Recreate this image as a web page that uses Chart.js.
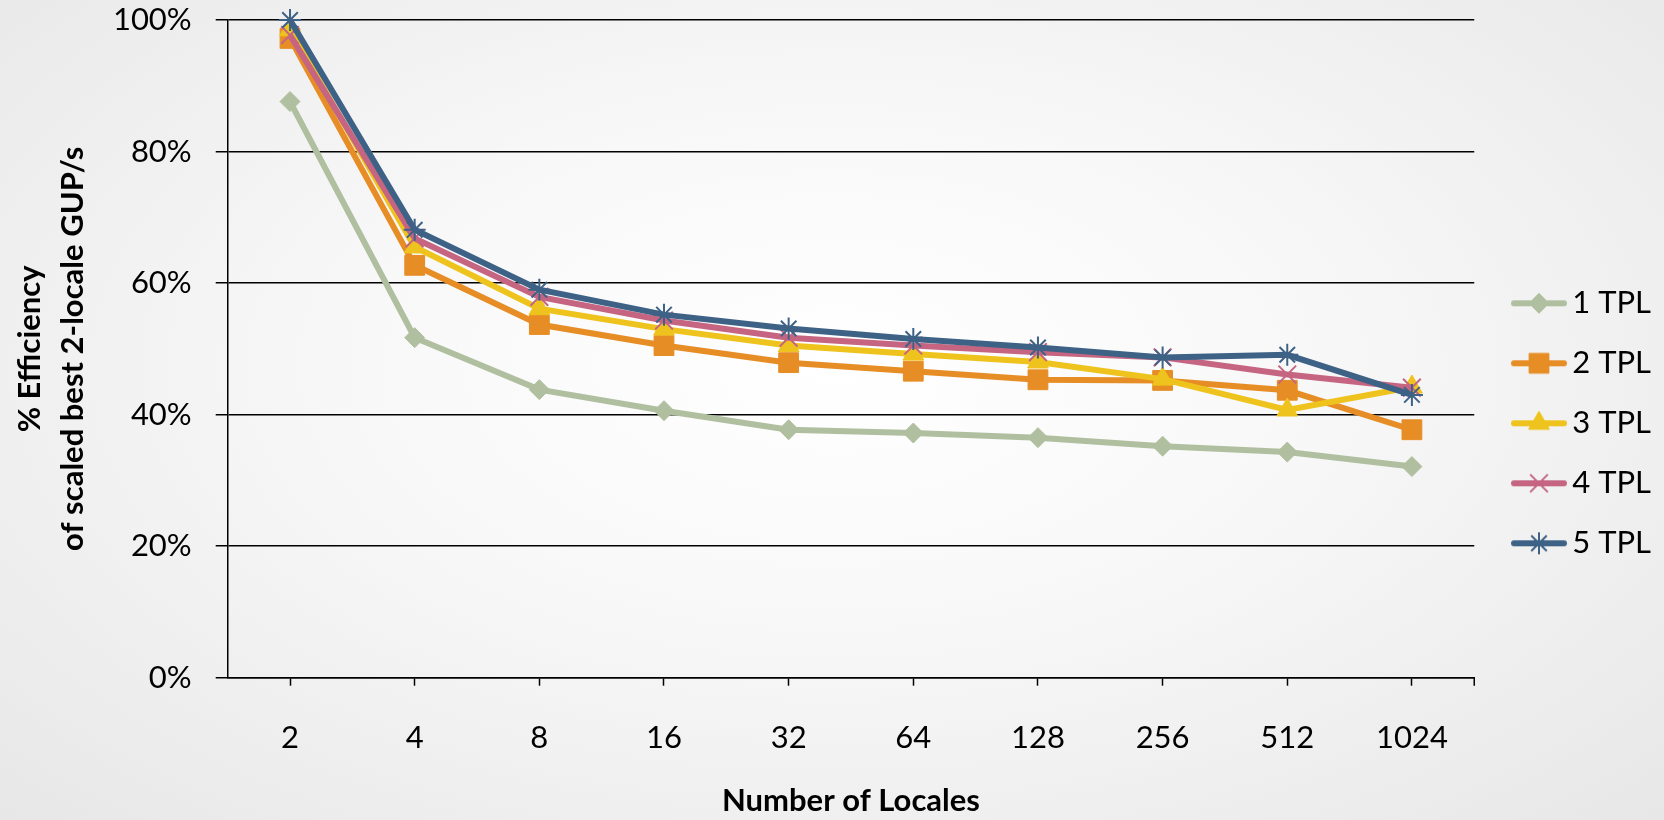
<!DOCTYPE html>
<html>
<head>
<meta charset="utf-8">
<script src="https://cdn.jsdelivr.net/npm/chart.js@4/dist/chart.umd.min.js"></script>
<style>
  html, body { margin: 0; padding: 0; }
  body {
    width: 1664px; height: 820px; overflow: hidden;
    background: radial-gradient(ellipse at 50% 45%, #ffffff 0%, #f8f8f8 40%, #e7e7e7 100%);
  }
  canvas { display: block; }
</style>
</head>
<body>
<canvas id="chart" width="1664" height="820"></canvas>
<script>
// chart data (in %)
const locales = ['2', '4', '8', '16', '32', '64', '128', '256', '512', '1024'];
const seriesNames = ['1 TPL', '2 TPL', '3 TPL', '4 TPL', '5 TPL'];
const tpl1 = [87.6, 51.7, 43.8, 40.6, 37.7, 37.2, 36.5, 35.2, 34.3, 32.1];
const tpl2 = [97.2, 62.7, 53.7, 50.5, 47.9, 46.6, 45.3, 45.2, 43.7, 37.7];
const tpl3 = [98.5, 65.5, 56.1, 53.0, 50.5, 49.2, 48.0, 45.4, 40.7, 44.2];
const tpl4 = [97.7, 66.8, 57.9, 54.3, 51.7, 50.5, 49.5, 48.7, 46.1, 44.1];
const tpl5 = [100, 68.1, 59.0, 55.2, 53.1, 51.5, 50.2, 48.7, 49.1, 43.0];
const yTicks = [0, 20, 40, 60, 80, 100];

const values = [tpl1, tpl2, tpl3, tpl4, tpl5];
const colors = ['#b0bf9f', '#e68d25', '#efc31d', '#c56582', '#3e6286'];
const markers = ['rectRot', 'rect', 'triangle', 'crossRot', 'star'];
const radii = [10, 14, 12, 12.5, 11];
const markerWidth = [1, 1, 1, 2, 2];

Chart.defaults.font.family = 'Lato';
Chart.defaults.font.size = 31;
Chart.defaults.color = '#000';

// legend icon: a short line with the marker in the middle
function legendIcon(i) {
    const c = document.createElement('canvas');
    c.width = 78;
    c.height = 32;
    const g = c.getContext('2d');
    const cx = 48, cy = 16;
    g.strokeStyle = colors[i];
    g.fillStyle = colors[i];
    g.lineWidth = 6;
    g.lineCap = 'round';
    g.beginPath();
    g.moveTo(cx - 25, cy);
    g.lineTo(cx + 25, cy);
    g.stroke();
    g.lineCap = 'butt';
    g.lineWidth = markerWidth[i];
    Chart.helpers.drawPoint(g, {pointStyle: markers[i], radius: radii[i], borderWidth: markerWidth[i], rotation: 0}, cx, cy);
    return c;
}
const icons = seriesNames.map((n, i) => legendIcon(i));

// small tick mark at the right end of the x axis
const edgeTick = {
    id: 'edgeTick',
    afterDraw(chart) {
        const {ctx, chartArea} = chart;
        ctx.save();
        ctx.strokeStyle = '#000';
        ctx.lineWidth = 1.5;
        ctx.beginPath();
        ctx.moveTo(chartArea.right, chartArea.bottom);
        ctx.lineTo(chartArea.right, chartArea.bottom + 8);
        ctx.stroke();
        ctx.restore();
    }
};

const datasets = seriesNames.map((name, i) => ({
    label: name,
    data: values[i],
    borderColor: colors[i],
    backgroundColor: colors[i],
    borderWidth: 6,
    pointStyle: markers[i],
    pointRadius: radii[i],
    pointBackgroundColor: colors[i],
    pointBorderColor: colors[i],
    pointBorderWidth: markerWidth[i],
    tension: 0,
    clip: false,
    order: seriesNames.length - i   // later series on top
}));

const ctx = document.getElementById('chart');
const chart = new Chart(ctx, {
    type: 'line',
    data: { labels: locales, datasets: datasets },
    plugins: [edgeTick],
    options: {
        responsive: false,
        animation: false,
        layout: { padding: { left: 4, right: 3, top: 20, bottom: 4 } },
        scales: {
            x: {
                offset: true,
                grid: { display: true, drawOnChartArea: false, tickLength: 8, tickColor: '#000', tickWidth: 1.5 },
                border: { display: true, color: '#000', width: 1.5 },
                ticks: { padding: 33.7, color: '#000' },
                title: {
                    display: true,
                    text: 'Number of Locales',
                    font: { weight: 'bold', size: 31, lineHeight: 1.0 },
                    padding: { top: 28.4, bottom: 0 }
                },
                afterFit: s => { s.height = 138.3; }
            },
            y: {
                min: 0,
                max: 100,
                afterBuildTicks: scale => { scale.ticks = yTicks.map(v => ({ value: v })); },
                grid: { color: '#000', lineWidth: 1.5, tickLength: 12 },
                border: { display: true, color: '#000', width: 1.5 },
                ticks: { padding: 24, color: '#000', callback: v => v + '%' },
                title: {
                    display: true,
                    text: ['% Efficiency', 'of scaled best 2-locale GUP/s'],
                    font: { weight: 'bold', size: 31, lineHeight: 1.39 },
                    padding: { top: 4, bottom: 17.5 }
                },
                afterFit: s => {
                    s.width = 223.7;
                    s.paddingTop = 0;
                    s.paddingBottom = 0;
                }
            }
        },
        plugins: {
            tooltip: { enabled: false },
            legend: {
                position: 'right',
                title: { display: true, text: '', padding: 0, font: { size: 10.6, lineHeight: 1 } },
                labels: {
                    usePointStyle: true,
                    pointStyleWidth: 53.5,
                    padding: 29,
                    color: '#000',
                    font: { size: 31 },
                    generateLabels: c => {
                        const items = Chart.defaults.plugins.legend.labels.generateLabels(c);
                        items.forEach(it => { it.pointStyle = icons[it.datasetIndex]; });
                        return items.sort((a, b) => a.datasetIndex - b.datasetIndex);
                    }
                }
            }
        }
    }
});
</script>
</body>
</html>
